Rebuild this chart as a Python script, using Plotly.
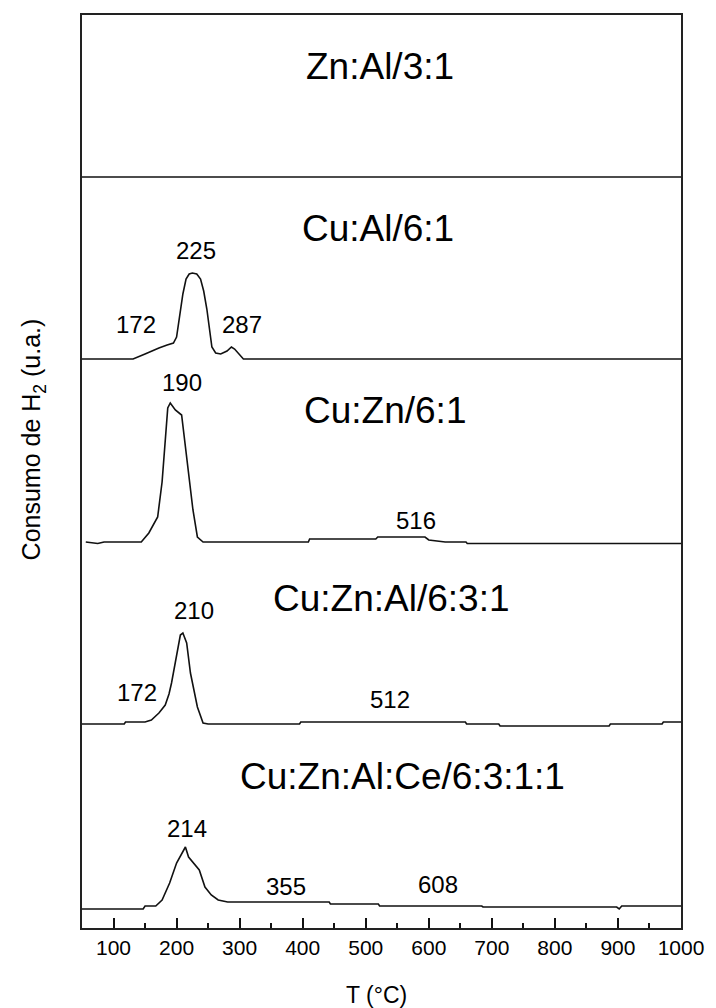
import plotly.graph_objects as go

# H2-TPR profiles: temperature (°C) and H2 consumption (u.a.) above each baseline
samples = ["Zn:Al/3:1", "Cu:Al/6:1", "Cu:Zn/6:1", "Cu:Zn:Al/6:3:1", "Cu:Zn:Al:Ce/6:3:1:1"]
baselines = [751, 569, 386, 204, 19]

t_znal = [50, 1000]
h_znal = [0, 0]

t_cual = [50, 131, 150, 160, 172, 185, 195, 200, 203, 210, 215, 220, 225, 232, 238, 243,
          248, 253, 256, 262, 270, 280, 287, 292, 298, 306, 1000]
h_cual = [0, 0, 5, 8, 11, 14, 16, 22, 36, 65, 80, 85, 86, 85, 80, 68,
          50, 28, 12, 6, 5, 8, 12, 10, 6, 0, 0]

t_cuzn = [56, 65, 75, 85, 144, 156, 170, 177, 181, 186, 190, 198, 208, 212, 219, 226,
          233, 242, 409, 411, 516, 519, 594, 600, 626, 659, 661, 1000]
h_cuzn = [0, -1, -1.5, 0, 0, 9, 25, 60, 90, 134, 139, 132, 127, 105, 72, 32,
          5, 0, 0, 3, 3, 5, 5, 2, 0, 0, -1.5, -1.5]

t_cuznal = [50, 117, 119, 150, 160, 172, 182, 188, 192, 200, 206, 210, 216, 222, 233, 242,
            250, 395, 397, 658, 660, 711, 713, 886, 888, 970, 972, 1000]
h_cuznal = [0, 0, 2, 2, 4, 11, 19, 30, 41, 67, 89, 91, 81, 51, 17, 1,
            0, 0, 2, 2, 0, 0, -2, -2, 0, 0, 2, 2]

t_ce = [50, 147, 150, 167, 177, 189, 200, 214, 219, 225, 236, 245, 255, 266, 281, 442,
        444, 520, 522, 684, 686, 898, 902, 906, 1000]
h_ce = [0, 0, 3, 3, 9, 26, 46, 62, 52, 47, 39, 22, 14, 9, 7, 7,
        5, 5, 3, 3, 2, 2, 0, 3, 3]

profiles_t = [t_znal, t_cual, t_cuzn, t_cuznal, t_ce]
profiles_h = [h_znal, h_cual, h_cuzn, h_cuznal, h_ce]

# Sample name placement: temperature of label centre, height above baseline
name_t = [522, 520, 531, 541, 559]
name_h = [111, 131, 132, 126, 133]

# Peak temperatures (°C) per sample: (sample index, peak T, label shift in °C, label height)
peak_labels = [
    (1, 172, -36, 35), (1, 225, 6, 109), (1, 287, 16, 35),
    (2, 190, 18, 160), (2, 516, 64, 22),
    (3, 172, -35, 32), (3, 210, 18, 114), (3, 512, 27, 25),
    (4, 214, 3, 81), (4, 355, 18, 23), (4, 608, 6, 25),
]

tick_vals = [100, 200, 300, 400, 500, 600, 700, 800, 900, 1000]
minor_vals = [150, 250, 350, 450, 550, 650, 750, 850, 950]

FONT = "Liberation Sans, Arial, sans-serif"

fig = go.Figure()
for name, base, ts, hs in zip(samples, baselines, profiles_t, profiles_h):
    fig.add_trace(go.Scatter(
        x=ts, y=[base + h for h in hs], mode="lines", name=name,
        line=dict(color="#111111", width=1.6), showlegend=False, hoverinfo="skip",
    ))

annotations = []
for name, base, nt, nh in zip(samples, baselines, name_t, name_h):
    annotations.append(dict(x=nt, y=base + nh, xref="x", yref="y", text=name,
                            xanchor="center", yanchor="middle", showarrow=False,
                            font=dict(family=FONT, size=37, color="#000000")))
for idx, tpk, dt, lh in peak_labels:
    annotations.append(dict(x=tpk + dt, y=baselines[idx] + lh, xref="x", yref="y",
                            text=str(tpk), xanchor="center", yanchor="middle", showarrow=False,
                            font=dict(family=FONT, size=24, color="#000000")))

# Axis titles
annotations.append(dict(x=-0.082, y=0.535, xref="paper", yref="paper",
                        text="Consumo de H<sub>2</sub> (u.a.)", textangle=-90,
                        xanchor="center", yanchor="middle",
                        showarrow=False, font=dict(family=FONT, size=25, color="#000000")))
annotations.append(dict(x=0.491, y=-0.073, xref="paper", yref="paper",
                        text="T (°C)", xanchor="center", yanchor="middle", showarrow=False,
                        font=dict(family=FONT, size=23, color="#000000")))

fig.update_layout(
    width=716, height=1008,
    margin=dict(l=82, r=27, t=15, b=80),
    paper_bgcolor="white", plot_bgcolor="white",
    annotations=annotations,
    showlegend=False,
)
fig.update_xaxes(
    range=[50, 1000], tickvals=tick_vals, ticktext=[str(v) for v in tick_vals],
    ticks="inside", ticklen=10, tickwidth=1.6, tickcolor="#111111",
    minor=dict(tickvals=minor_vals, ticks="inside", ticklen=5, tickwidth=1.6, tickcolor="#111111"),
    tickfont=dict(family=FONT, size=21, color="#000000"),
    showline=True, linecolor="#222222", linewidth=2, mirror=True,
    showgrid=False, zeroline=False,
)
fig.update_yaxes(
    range=[0, 913], showticklabels=False, ticks="",
    showline=True, linecolor="#222222", linewidth=2, mirror=True,
    showgrid=False, zeroline=False,
)

fig.write_html("out.html")
